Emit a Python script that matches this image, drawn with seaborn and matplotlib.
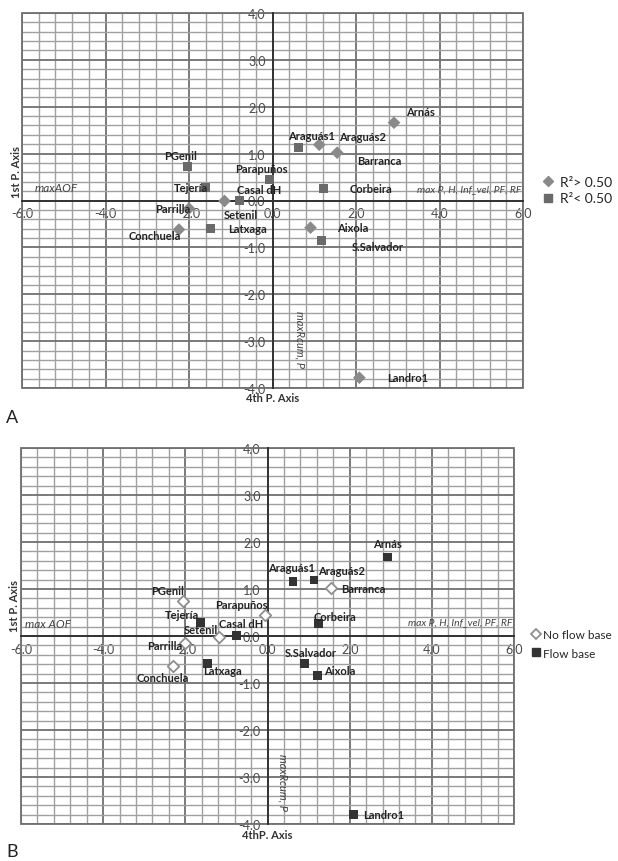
import numpy as np
import pandas as pd
import matplotlib
matplotlib.use('Agg')
import matplotlib.pyplot as plt
from matplotlib.ticker import MultipleLocator, FormatStrFormatter
from matplotlib.patches import Rectangle
from matplotlib.lines import Line2D
import seaborn as sns

sites = ['PGenil', 'Parapuños', 'Tejería', 'Casal dH', 'Setenil', 'Parrilla', 'Conchuela', 'Latxaga',
         'Araguás1', 'Araguás2', 'Barranca', 'Arnás', 'Corbeira', 'Aixola', 'S.Salvador', 'Landro1']

# panel A: 4th P. axis (x) vs 1st P. axis (y)
xa = [-2.03, -0.08, -1.60, -0.78, -1.15, -2.00, -2.24, -1.48, 0.63, 1.12, 1.55, 2.91, 1.22, 0.91, 1.18, 2.08]
ya = [0.73, 0.45, 0.28, 0.00, -0.01, -0.17, -0.62, -0.60, 1.14, 1.19, 1.02, 1.66, 0.26, -0.58, -0.86, -3.78]
low_r2 = ['PGenil', 'Parapuños', 'Tejería', 'Casal dH', 'Latxaga', 'Araguás1', 'Corbeira', 'S.Salvador']

# panel B
xb = [-2.06, -0.07, -1.64, -0.76, -1.19, -2.00, -2.29, -1.46, 0.62, 1.13, 1.54, 2.92, 1.25, 1.21, 0.91, 2.09]
yb = [0.75, 0.45, 0.29, 0.01, -0.02, -0.14, -0.64, -0.59, 1.16, 1.19, 1.02, 1.68, 0.27, -0.84, -0.59, -3.79]
no_flow = ['PGenil', 'Parapuños', 'Setenil', 'Parrilla', 'Conchuela', 'Barranca']

# label offsets in pixels (dx, dy, ha)
offs_a = {'PGenil': (-7, 11, 'center'), 'Parapuños': (-8, 11, 'center'), 'Tejería': (2, 0, 'right'),
          'Casal dH': (19, 11, 'center'), 'Setenil': (16, -14, 'center'), 'Parrilla': (1, 0, 'right'),
          'Conchuela': (-24, -6, 'center'), 'Latxaga': (17, 0, 'left'), 'Araguás1': (13, 12, 'center'),
          'Araguás2': (20, 8, 'left'), 'Barranca': (20, -8, 'left'), 'Arnás': (12, 11, 'left'),
          'Corbeira': (26, 0, 'left'), 'Aixola': (27, 0, 'left'), 'S.Salvador': (30, -6, 'left'),
          'Landro1': (28, 0, 'left')}
offs_b = {'PGenil': (-15, 10, 'center'), 'Parapuños': (3, 10, 'right'), 'Tejería': (-18, 8, 'center'),
          'Casal dH': (5, 12, 'center'), 'Setenil': (-1, 7, 'right'), 'Parrilla': (-3, -3, 'right'),
          'Conchuela': (-11, -11, 'center'), 'Latxaga': (-4, -7, 'left'), 'Araguás1': (-1, 14, 'center'),
          'Araguás2': (4, 10, 'left'), 'Barranca': (10, 0, 'left'), 'Arnás': (0, 14, 'center'),
          'Corbeira': (-5, 7, 'left'), 'Aixola': (7, 5, 'left'), 'S.Salvador': (6, 11, 'center'),
          'Landro1': (10, 0, 'left')}

sns.set_style('white')
plt.rcParams['font.family'] = ['Lato', 'DejaVu Sans']
plt.rcParams['axes.unicode_minus'] = False

fig = plt.figure(figsize=(6.18, 8.62), dpi=100)


def setup_axes(ax):
    ax.set_xlim(-6, 6)
    ax.set_ylim(-4, 4)
    ax.xaxis.set_major_locator(MultipleLocator(2))
    ax.xaxis.set_minor_locator(MultipleLocator(0.4))
    ax.yaxis.set_major_locator(MultipleLocator(1))
    ax.yaxis.set_minor_locator(MultipleLocator(0.2))
    ax.xaxis.set_major_formatter(FormatStrFormatter('%.1f'))
    ax.yaxis.set_major_formatter(FormatStrFormatter('%.1f'))
    ax.grid(which='minor', color='#a0a0a0', lw=1.0, zorder=0)
    ax.grid(which='major', color='#707070', lw=1.3, zorder=0)
    ax.set_axisbelow(True)
    ax.spines['left'].set_position(('data', 0))
    ax.spines['bottom'].set_position(('data', 0))
    for s in ['left', 'bottom']:
        ax.spines[s].set_color('#333333')
        ax.spines[s].set_linewidth(1.4)
        ax.spines[s].set_visible(True)
    ax.spines['top'].set_visible(False)
    ax.spines['right'].set_visible(False)
    ax.tick_params(which='major', direction='out', length=4, width=1, color='#333333',
                   labelsize=9, labelcolor='#4a4a4a', pad=1)
    ax.tick_params(which='minor', length=0)
    ax.add_patch(Rectangle((0, 0), 1, 1, transform=ax.transAxes, fill=False,
                           edgecolor='#707070', lw=1.3, clip_on=False, zorder=1))
    ax.set_xlabel('')
    ax.set_ylabel('')


def label_points(ax, xs, ys, offs):
    for name, x, y in zip(sites, xs, ys):
        dx, dy, ha = offs[name]
        ax.annotate(name, (x, y), xytext=(dx, dy), textcoords='offset pixels',
                    ha=ha, va='center', fontsize=8, fontweight='bold', color='#222222', zorder=5)


# ---- panel A ----
axA = fig.add_axes([22 / 618, 1 - 389 / 862, 501 / 618, 375 / 862])
dfa = pd.DataFrame({'site': sites, 'x': xa, 'y': ya})
dfa['group'] = np.where(dfa['site'].isin(low_r2), 'R²< 0.50', 'R²> 0.50')
sns.scatterplot(data=dfa, x='x', y='y', hue='group', style='group',
                hue_order=['R²> 0.50', 'R²< 0.50'], style_order=['R²> 0.50', 'R²< 0.50'],
                markers={'R²> 0.50': 'D', 'R²< 0.50': 's'},
                palette={'R²> 0.50': '#8a8a8a', 'R²< 0.50': '#6a6a6a'},
                s=42, edgecolor='none', ax=axA, legend=False, zorder=4)
setup_axes(axA)
label_points(axA, xa, ya, offs_a)
axA.text(-5.69, 0.28, 'maxAOF', style='italic', fontsize=8.5, color='#444444', va='center', ha='left')
axA.text(5.95, 0.26, 'max P, H, Inf_vel, PF, RF', style='italic', fontsize=7.5, color='#444444',
         va='center', ha='right')
axA.text(-6.12, 0.62, '1st P. Axis', rotation=90, fontsize=8, fontweight='bold', color='#333333',
         va='center', ha='center', clip_on=False)
axA.text(0, -4.2, '4th P. Axis', fontsize=8, fontweight='bold', color='#333333',
         va='center', ha='center', clip_on=False)
axA.text(0.66, -2.94, 'maxRcum, P', rotation=270, style='italic', fontsize=8, color='#444444',
         va='center', ha='center')
hA = [Line2D([], [], marker='D', ls='', color='#8a8a8a', markersize=5.5),
      Line2D([], [], marker='s', ls='', color='#6a6a6a', markersize=6)]
fig.legend(hA, ['R²> 0.50', 'R²< 0.50'], loc='center left', bbox_to_anchor=(529 / 618, 1 - 191 / 862),
           frameon=False, fontsize=10, handletextpad=0.3, handlelength=1.0, labelspacing=0.35)
fig.text(12 / 618, 1 - 418 / 862, 'A', fontsize=13, ha='center', va='center', color='#222222')

# ---- panel B ----
axB = fig.add_axes([21 / 618, 1 - 825 / 862, 493 / 618, 376 / 862])
dfb = pd.DataFrame({'site': sites, 'x': xb, 'y': yb})
dfb['group'] = np.where(dfb['site'].isin(no_flow), 'No flow base', 'Flow base')
sub = dfb[dfb['group'] == 'No flow base']
sns.scatterplot(data=sub, x='x', y='y', marker='D', color='white', edgecolor='#8f8f8f',
                linewidth=1.3, s=34, ax=axB, legend=False, zorder=4)
sub = dfb[dfb['group'] == 'Flow base']
sns.scatterplot(data=sub, x='x', y='y', marker='s', color='#333333', edgecolor='none',
                s=40, ax=axB, legend=False, zorder=4)
setup_axes(axB)
label_points(axB, xb, yb, offs_b)
axB.text(-5.9, 0.26, 'max AOF', style='italic', fontsize=8.5, color='#444444', va='center', ha='left')
axB.text(5.95, 0.31, 'max P, H, Inf_vel, PF, RF', style='italic', fontsize=7.5, color='#444444',
         va='center', ha='right')
axB.text(-6.15, 0.65, '1st P. Axis', rotation=90, fontsize=8, fontweight='bold', color='#333333',
         va='center', ha='center', clip_on=False)
axB.text(0, -4.22, '4thP. Axis', fontsize=8, fontweight='bold', color='#333333',
         va='center', ha='center', clip_on=False)
axB.text(0.37, -3.1, 'maxRcum, P', rotation=270, style='italic', fontsize=8, color='#444444',
         va='center', ha='center')
hB = [Line2D([], [], marker='D', ls='', markerfacecolor='white', markeredgecolor='#8f8f8f',
             markeredgewidth=1.3, markersize=5),
      Line2D([], [], marker='s', ls='', color='#333333', markersize=6)]
fig.legend(hB, ['No flow base', 'Flow base'], loc='center left', bbox_to_anchor=(520 / 618, 1 - 645 / 862),
           frameon=False, fontsize=8.5, handletextpad=0.15, handlelength=0.9, labelspacing=0.6)
fig.text(12 / 618, 1 - 852 / 862, 'B', fontsize=13, ha='center', va='center', color='#222222')

fig.savefig('out.png', dpi=100)
